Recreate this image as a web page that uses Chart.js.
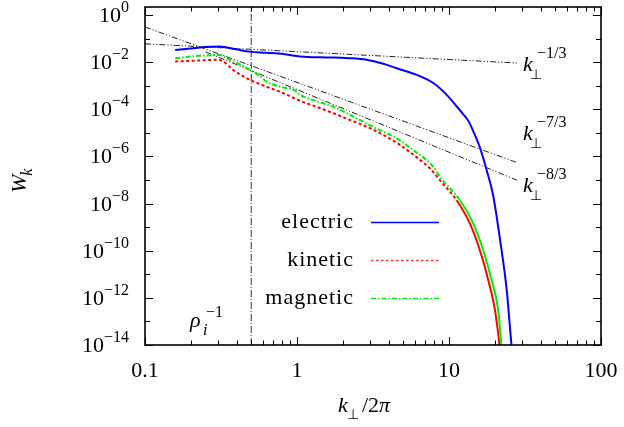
<!DOCTYPE html>
<html>
<head>
<meta charset="utf-8">
<script src="https://cdn.jsdelivr.net/npm/chart.js@4/dist/chart.umd.min.js"></script>
<style>
  html, body { margin: 0; padding: 0; background: #fff; }
  canvas { display: block; }
</style>
</head>
<body>
<canvas id="spectrum" width="624" height="427"></canvas>
<script>
// Wavenumber k_perp/2pi and spectral energy W_k of each field
const electricK = [0.158, 0.200, 0.251, 0.309, 0.398, 0.490, 0.631, 0.813, 1.047, 1.413, 1.738, 2.188, 2.871, 3.70, 4.53, 6.14, 7.89, 9.66, 11.22, 12.3, 13.5, 14.45, 16.0, 17.7, 19.5, 21.7, 24.0, 25.6, 26.3];
const electricW = [3.3e-2, 3.8e-2, 4.4e-2, 4.6e-2, 3.5e-2, 2.8e-2, 2.5e-2, 2.2e-2, 1.74e-2, 1.6e-2, 1.58e-2, 1.48e-2, 1.26e-2, 8.5e-3, 5.5e-3, 2.9e-3, 1.3e-3, 4.1e-4, 1.35e-4, 6.6e-5, 3.0e-5, 1.15e-5, 2.3e-6, 2.6e-7, 2.3e-8, 2.75e-10, 2.0e-12, 1.6e-14, 2.5e-15];

const kineticK = [0.158, 0.224, 0.295, 0.327, 0.380, 0.490, 0.631, 0.813, 1.047, 1.349, 1.738, 2.239, 2.884, 3.715, 4.786, 6.166, 7.50, 8.71, 11.22, 13.74, 16.0, 18.16, 20.09, 21.33, 21.9];
const kineticW = [1.07e-2, 1.17e-2, 1.26e-2, 1.07e-2, 4.7e-3, 1.78e-3, 9.1e-4, 4.8e-4, 2.3e-4, 1.26e-4, 6.8e-5, 3.5e-5, 1.8e-5, 8.1e-6, 3.0e-6, 8.9e-7, 3.1e-7, 9.8e-8, 1.38e-8, 1.41e-9, 1.0e-10, 5.5e-12, 2.9e-13, 1.55e-14, 3.2e-15];

const magneticK = [0.158, 0.229, 0.309, 0.363, 0.490, 0.575, 0.631, 0.776, 0.955, 1.047, 1.413, 1.738, 2.455, 3.311, 4.529, 5.821, 7.889, 8.730, 11.80, 14.45, 16.83, 19.10, 21.09, 21.98, 22.65];
const magneticW = [1.48e-2, 1.86e-2, 2.0e-2, 1.26e-2, 4.7e-3, 2.45e-3, 1.48e-3, 9.1e-4, 6.6e-4, 4.1e-4, 2.0e-4, 1.29e-4, 4.2e-5, 1.55e-5, 5.9e-6, 1.86e-6, 3.6e-7, 1.35e-7, 1.38e-8, 1.41e-9, 1.0e-10, 5.5e-12, 2.9e-13, 1.55e-14, 3.2e-15];

// Power-law guide lines (end points)
const slopeOneThirdK = [0.1, 28];
const slopeOneThirdW = [6.0e-2, 9.2e-3];
const slopeSevenThirdsK = [0.1, 28];
const slopeSevenThirdsW = [0.31, 5.5e-7];
const slopeEightThirdsK = [0.25, 28];
const slopeEightThirdsW = [2.75e-2, 9.8e-8];

// Ion gyroradius scale marker
const rhoInverseK = 0.5;

// Axis ticks
const xTickValues = [0.1, 1, 10, 100];
const xTickLabels = ['0.1', '1', '10', '100'];
const yTickExponents = [0, -2, -4, -6, -8, -10, -12, -14];

const seriesNames = ['electric', 'kinetic', 'magnetic'];

const SERIF = '"Liberation Serif"';
const F_MAIN = '22px ' + SERIF;
const F_ITAL = 'italic 22px ' + SERIF;
const F_SUP = '16px ' + SERIF;
const F_SUB = 'italic 16px ' + SERIF;
const F_PERP = '14px "DejaVu Sans"';

const zip = (ks, ws) => ks.map((k, i) => ({ x: k, y: ws[i] }));

const guideStyle = {
  borderColor: '#222',
  borderWidth: 1,
  borderDash: [6, 2, 1.2, 2, 1.2, 2],
  pointRadius: 0,
  showLine: true,
  fill: false,
  tension: 0
};

// dense tail of the spectra is drawn without breaks
const solidTail = (from) => ({ borderDash: (c) => (c.p0.parsed.x >= from ? [] : undefined) });

const curve = { pointRadius: 0, showLine: true, borderWidth: 2, cubicInterpolationMode: 'monotone' };

const datasets = [
  Object.assign({ label: seriesNames[0], data: zip(electricK, electricW), borderColor: '#0000ff' }, curve),
  Object.assign({ label: seriesNames[2], data: zip(magneticK, magneticW), borderColor: '#00ee00', borderDash: [5, 2, 1.5, 2], segment: solidTail(9) }, curve),
  Object.assign({ label: seriesNames[1], data: zip(kineticK, kineticW), borderColor: '#ff0000', borderDash: [3, 2.5], segment: solidTail(9) }, curve),
  Object.assign({ label: 'k-1/3', data: zip(slopeOneThirdK, slopeOneThirdW) }, guideStyle),
  Object.assign({ label: 'k-7/3', data: zip(slopeSevenThirdsK, slopeSevenThirdsW) }, guideStyle),
  Object.assign({ label: 'k-8/3', data: zip(slopeEightThirdsK, slopeEightThirdsW) }, guideStyle)
];

// Draws a sequence of [text, font, dy] runs
function drawRuns(ctx, x, y, parts, align) {
  let total = 0;
  const widths = parts.map(p => { ctx.font = p[1]; const w = ctx.measureText(p[0]).width; total += w; return w; });
  let cx = align === 'right' ? x - total : align === 'center' ? x - total / 2 : x;
  parts.forEach((p, i) => {
    ctx.font = p[1];
    ctx.fillText(p[0], cx, y + (p[2] || 0));
    cx += widths[i];
  });
}

// k_perp with a superscript exponent
function drawKPerp(ctx, x, y, exponent) {
  ctx.font = F_ITAL;
  ctx.fillText('k', x, y);
  ctx.font = F_PERP;
  ctx.fillText('\u22A5', x + 7, y + 8);
  ctx.font = F_SUP;
  ctx.fillText(exponent, x + 14, y - 13);
}

const framePlugin = {
  id: 'frame',
  beforeDatasetsDraw(chart) {
    const { ctx, chartArea: a, scales: { x } } = chart;
    const px = x.getPixelForValue(rhoInverseK);
    ctx.save();
    ctx.strokeStyle = '#333';
    ctx.lineWidth = 1;
    ctx.setLineDash([7, 2, 1, 2]);
    ctx.beginPath();
    ctx.moveTo(px, a.bottom);
    ctx.lineTo(px, a.top);
    ctx.stroke();
    ctx.restore();
  },
  afterDraw(chart) {
    const { ctx, chartArea: a, scales: { x, y } } = chart;
    ctx.save();
    ctx.fillStyle = '#000';
    ctx.strokeStyle = '#000';
    ctx.textBaseline = 'alphabetic';

    // ticks, pointing inward on all four sides
    ctx.lineWidth = 1;
    ctx.setLineDash([]);
    ctx.beginPath();
    for (let d = -1; d <= 2; d++) {
      for (let m = 1; m <= 9; m++) {
        const v = m * Math.pow(10, d);
        if (v < 0.1 || v > 100) continue;
        const p = Math.round(x.getPixelForValue(v)) + 0.5;
        const len = m === 1 ? 8 : 4.5;
        ctx.moveTo(p, a.bottom); ctx.lineTo(p, a.bottom - len);
        ctx.moveTo(p, a.top); ctx.lineTo(p, a.top + len);
      }
    }
    for (let e = -14; e <= 0; e++) {
      const p = Math.round(y.getPixelForValue(Math.pow(10, e))) + 0.5;
      const len = e % 2 === 0 ? 8 : 5;
      ctx.moveTo(a.left, p); ctx.lineTo(a.left + len, p);
      ctx.moveTo(a.right, p); ctx.lineTo(a.right - len, p);
    }
    ctx.stroke();

    // frame
    ctx.lineWidth = 1.6;
    ctx.strokeRect(a.left, a.top, a.right - a.left, a.bottom - a.top);

    // y tick labels
    yTickExponents.forEach(e => {
      const p = y.getPixelForValue(Math.pow(10, e));
      const sup = e === 0 ? '0' : '\u2212' + Math.abs(e);
      drawRuns(ctx, 129, p + 7, [['10', F_MAIN, 0], [sup, F_SUP, -10]], 'right');
    });

    // x tick labels
    ctx.font = F_MAIN;
    ctx.textAlign = 'center';
    xTickValues.forEach((v, i) => {
      ctx.fillText(xTickLabels[i], x.getPixelForValue(v), 377);
    });
    ctx.textAlign = 'left';

    // x axis title: k_perp / 2 pi
    drawRuns(ctx, 338, 412, [['k', F_ITAL, 0]]);
    ctx.font = F_PERP;
    ctx.fillText('\u22A5', 347, 419);
    drawRuns(ctx, 362, 412, [['/', F_MAIN, 0], ['2', F_MAIN, 0], ['\u03C0', F_ITAL, 0]]);

    // y axis title: W_k
    ctx.save();
    ctx.translate(26, 193);
    ctx.rotate(-Math.PI / 2);
    ctx.font = F_ITAL;
    ctx.fillText('W', 0, 0);
    const ww = ctx.measureText('W').width;
    ctx.font = F_SUB;
    ctx.fillText('k', ww - 1, 6);
    ctx.restore();

    // power-law labels
    drawKPerp(ctx, 523, 71, '\u22121/3');
    drawKPerp(ctx, 523, 140, '\u22127/3');
    drawKPerp(ctx, 523, 192, '\u22128/3');

    // rho_i^-1 marker label
    ctx.font = F_ITAL;
    ctx.fillText('\u03C1', 190, 327);
    ctx.font = F_SUB;
    ctx.fillText('i', 203, 335);
    ctx.font = F_SUP;
    ctx.fillText('\u22121', 206, 317);

    // legend
    const rows = [
      { name: seriesNames[0], color: '#0000ff', dash: [], base: 228 },
      { name: seriesNames[1], color: '#ff3030', dash: [2.5, 2.5], base: 266 },
      { name: seriesNames[2], color: '#00ee00', dash: [5, 2, 1.5, 2], base: 304 }
    ];
    rows.forEach(r => {
      ctx.font = F_MAIN;
      ctx.letterSpacing = '1px';
      ctx.textAlign = 'right';
      ctx.fillStyle = '#000';
      ctx.fillText(r.name, 354, r.base);
      ctx.letterSpacing = '0px';
      ctx.textAlign = 'left';
      ctx.strokeStyle = r.color;
      ctx.lineWidth = 1.3;
      ctx.setLineDash(r.dash);
      ctx.beginPath();
      ctx.moveTo(371, r.base - 5.5);
      ctx.lineTo(439, r.base - 5.5);
      ctx.stroke();
    });
    ctx.restore();
  }
};

new Chart(document.getElementById('spectrum'), {
  type: 'scatter',
  data: { datasets },
  options: {
    responsive: false,
    animation: false,
    devicePixelRatio: 1,
    layout: { padding: { left: 145, right: 23, top: 7, bottom: 82 } },
    plugins: { legend: { display: false }, tooltip: { enabled: false } },
    scales: {
      x: { type: 'logarithmic', min: 0.1, max: 100, display: false },
      y: { type: 'logarithmic', min: 1e-14, max: 2.19, display: false }
    }
  },
  plugins: [framePlugin]
});
</script>
</body>
</html>
